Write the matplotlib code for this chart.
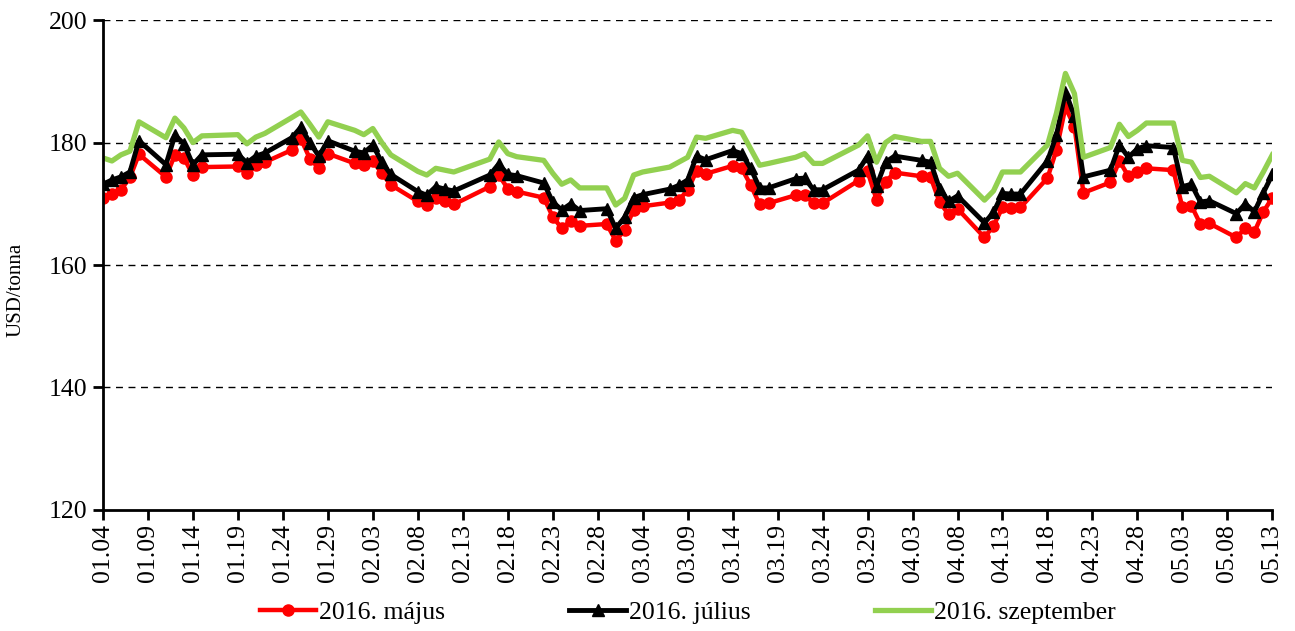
import numpy as np
import pandas as pd
import matplotlib
matplotlib.use("Agg")
import matplotlib.pyplot as plt
import matplotlib.dates as mdates

plt.rcParams['font.family'] = ['Liberation Serif', 'DejaVu Serif']

# trading days 2016 (MM.DD)
dates = ["01.04", "01.05", "01.06", "01.07", "01.08", "01.11", "01.12", "01.13", "01.14", "01.15",
         "01.19", "01.20", "01.21", "01.22", "01.25", "01.26", "01.27", "01.28", "01.29",
         "02.01", "02.02", "02.03", "02.04", "02.05", "02.08", "02.09", "02.10", "02.11", "02.12",
         "02.16", "02.17", "02.18", "02.19", "02.22", "02.23", "02.24", "02.25", "02.26", "02.29",
         "03.01", "03.02", "03.03", "03.04", "03.07", "03.08", "03.09", "03.10", "03.11",
         "03.14", "03.15", "03.16", "03.17", "03.18", "03.21", "03.22", "03.23", "03.24",
         "03.28", "03.29", "03.30", "03.31", "04.01", "04.04", "04.05", "04.06", "04.07", "04.08",
         "04.11", "04.12", "04.13", "04.14", "04.15", "04.18", "04.19", "04.20", "04.21", "04.22",
         "04.25", "04.26", "04.27", "04.28", "04.29", "05.02", "05.03", "05.04", "05.05", "05.06",
         "05.09", "05.10", "05.11", "05.12", "05.13"]

majus = [170.9, 171.6, 172.3, 174.3, 178.1, 174.4, 178.0, 177.5, 174.7, 176.0,
         176.1, 175.0, 176.4, 176.8, 178.8, 180.6, 177.4, 175.8, 178.2,
         176.6, 176.4, 177.0, 175.0, 173.1, 170.4, 169.8, 171.0, 170.5, 169.9,
         172.8, 174.7, 172.5, 172.0, 171.0, 167.9, 166.0, 167.2, 166.4, 166.7,
         164.0, 165.7, 169.0, 169.6, 170.2, 170.6, 172.2, 175.4, 174.9,
         176.2, 175.8, 173.1, 169.9, 170.1, 171.4, 171.5, 170.1, 170.1,
         173.8, 175.3, 170.7, 173.6, 175.1, 174.5, 174.4, 170.3, 168.3, 169.2,
         164.5, 166.4, 169.4, 169.3, 169.4, 174.2, 178.8, 185.8, 182.6, 171.8,
         173.5, 177.0, 174.5, 175.2, 175.8, 175.5, 169.4, 169.7, 166.7, 166.8,
         164.5, 166.0, 165.4, 168.7, 171.0]

julius = [173.2, 173.9, 174.4, 175.2, 180.3, 176.4, 181.2, 179.8, 176.4, 178.0,
          178.1, 176.7, 177.8, 178.3, 180.8, 182.5, 180.0, 177.8, 180.3,
          178.6, 178.3, 179.6, 176.8, 174.8, 172.0, 171.4, 172.8, 172.4, 172.1,
          174.7, 176.5, 174.8, 174.6, 173.4, 170.3, 169.0, 170.0, 168.9, 169.2,
          166.0, 167.8, 171.0, 171.5, 172.4, 173.0, 173.9, 177.8, 177.2,
          178.7, 178.2, 175.8, 172.6, 172.6, 174.1, 174.2, 172.3, 172.3,
          175.5, 177.8, 172.9, 176.8, 177.8, 177.1, 176.8, 172.5, 170.4, 171.3,
          166.9, 168.6, 171.7, 171.6, 171.6, 177.0, 181.2, 188.3, 184.3, 174.4,
          175.5, 179.6, 177.6, 179.0, 179.5, 179.2, 172.8, 173.2, 170.3, 170.5,
          168.4, 170.0, 168.7, 171.8, 174.8]

szeptember = [177.5, 177.0, 178.0, 178.6, 183.4, 180.8, 184.0, 182.4, 180.0, 181.1,
              181.3, 179.8, 180.9, 181.5, 184.1, 185.0, 183.0, 180.9, 183.4,
              182.0, 181.3, 182.3, 180.0, 178.0, 175.3, 174.7, 175.8, 175.5, 175.2,
              177.3, 180.1, 178.2, 177.7, 177.1, 175.0, 173.2, 173.9, 172.6, 172.6,
              169.8, 170.9, 174.7, 175.2, 176.0, 176.8, 177.6, 180.9, 180.7,
              182.0, 181.7, 179.0, 176.3, 176.6, 177.6, 178.2, 176.6, 176.6,
              179.6, 181.1, 176.8, 180.0, 181.0, 180.2, 180.2, 175.8, 174.5, 175.0,
              170.6, 172.1, 175.2, 175.2, 175.2, 179.6, 184.8, 191.3, 188.0, 177.6,
              179.2, 183.0, 181.0, 182.0, 183.2, 183.2, 177.1, 176.8, 174.3, 174.5,
              171.8, 173.3, 172.6, 175.2, 178.0]

x = pd.to_datetime(["2016." + d for d in dates], format="%Y.%m.%d")

fig = plt.figure(figsize=(12.95, 6.31), dpi=100)
ax = fig.add_axes([0.0795, 0.192, 0.903, 0.776])

ax.plot(x, majus, color='#FF0000', lw=3.2, marker='o', markersize=8, label='2016. május')
ax.plot(x, julius, color='black', lw=3.5, marker='^', markersize=9, label='2016. július')
ax.plot(x, szeptember, color='#92D050', lw=3.8, label='2016. szeptember')

ax.set_ylim(120, 200)
ax.set_yticks(np.arange(120, 201, 20))
for v in [140, 160, 180, 200]:
    ax.axhline(v, color='black', lw=1, ls=(0, (5, 4)), zorder=0)

start = pd.Timestamp("2016-01-04")
end = pd.Timestamp("2016-05-13")
ax.set_xlim(start, end)
ax.set_xticks(pd.date_range(start, end, freq='5D'))
ax.xaxis.set_major_formatter(mdates.DateFormatter('%m.%d'))
plt.setp(ax.get_xticklabels(), rotation=90)

ax.tick_params(axis='both', labelsize=18.5, width=2, length=7, direction='out')
ax.tick_params(axis='y', pad=4)
ax.spines['top'].set_visible(False)
ax.spines['right'].set_visible(False)
ax.spines['left'].set_linewidth(2)
ax.spines['bottom'].set_linewidth(2)
ax.set_ylabel('USD/tonna', fontsize=15)
ax.yaxis.set_label_coords(-0.066, 0.45)

fig.legend(loc='lower center', bbox_to_anchor=(0.531, -0.025), ncol=3, frameon=False,
           fontsize=18.5, columnspacing=4.85, handlelength=2.2, handletextpad=0.1)

fig.savefig('out.png', dpi=100)
